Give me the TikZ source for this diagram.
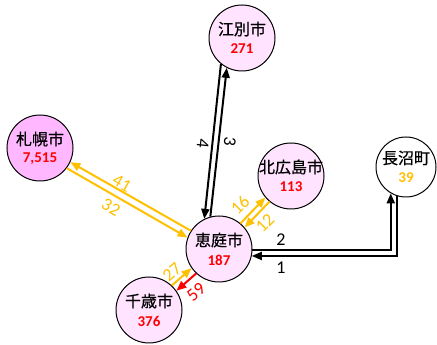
\documentclass[tikz,border=0pt]{standalone}
\usepackage{fontspec}
\setmainfont{Carlito}
\newfontfamily\jp[FakeBold=0.6]{Noto Sans CJK JP}
\usetikzlibrary{arrows.meta,calc}
\definecolor{cfill}{HTML}{FFE3FF}
\definecolor{sfill}{HTML}{FFB8FF}
\definecolor{gold}{HTML}{FFC000}
\begin{document}
\begin{tikzpicture}[x=1pt,y=1pt,
  city/.style={circle,draw,line width=1pt,minimum size=66pt,inner sep=0pt,fill=cfill},
  jpname/.style={font=\jp\fontsize{16}{16}\selectfont,inner sep=0pt},
  num/.style={font=\fontsize{15}{15}\selectfont\bfseries,inner sep=0pt,text=red},
  flow/.style={line width=2pt,-{Triangle[length=10pt,width=8pt]}},
  lab/.style={font=\fontsize{18}{18}\selectfont,inner sep=0pt}
]
\useasboundingbox (0,0) rectangle (437,345);

% cities
\node[city] (ebetsu) at (242,307) {};
\node[city,fill=sfill] (sapporo) at (40,197) {};
\node[city] (kita) at (291,169) {};
\node[city,fill=white,minimum size=60pt] (naganuma) at (406,178) {};
\node[city] (eniwa) at (219,96) {};
\node[city] (chitose) at (149,35) {};

\node[jpname] (ebetsu-t) at ([yshift=9pt]ebetsu.center) {江別市};
\node[num] (ebetsu-n) at ([yshift=-11pt]ebetsu.center) {271};
\node[jpname] (sapporo-t) at ([yshift=9pt]sapporo.center) {札幌市};
\node[num] (sapporo-n) at ([yshift=-11pt]sapporo.center) {7,515};
\node[jpname] (kita-t) at ([yshift=9pt]kita.center) {北広島市};
\node[num] (kita-n) at ([yshift=-11pt]kita.center) {113};
\node[jpname] (naganuma-t) at ([yshift=9pt]naganuma.center) {長沼町};
\node[num,text=gold] (naganuma-n) at ([yshift=-11pt]naganuma.center) {39};
\node[jpname] (eniwa-t) at ([yshift=9pt]eniwa.center) {恵庭市};
\node[num] (eniwa-n) at ([yshift=-11pt]eniwa.center) {187};
\node[jpname] (chitose-t) at ([yshift=9pt]chitose.center) {千歳市};
\node[num] (chitose-n) at ([yshift=-11pt]chitose.center) {376};

% Ebetsu
\draw[flow] (ebetsu.231) -- (eniwa.116.6);
\draw[flow] (eniwa.105.9) -- (ebetsu.243);
% Sapporo
\draw[flow,gold] (eniwa.147.8) -- (sapporo.-25);
\draw[flow,gold] (sapporo.-37.6) -- (eniwa.160.5);
% Kitahiroshima
\draw[flow,gold] (eniwa.50.6) -- (kita.220.2);
\draw[flow,gold] (kita.230.6) -- (eniwa.40.2);
% Chitose
\draw[flow,gold] (chitose.47.1) -- (eniwa.215.1);
\draw[flow,red] (eniwa.227.1) -- (chitose.35.1);
% Naganuma
\draw[flow] (eniwa.-1.7) -| (naganuma.-120);
\draw[flow] (naganuma.-107.5) |- (eniwa.-12.2);

% labels
\node[lab] (l4) at (203,201) [rotate=-96] {4};
\node[lab] (l3) at (230,203) [rotate=-96] {3};
\node[lab,text=gold] (l41) at (122,162) [rotate=-30] {41};
\node[lab,text=gold] (l32) at (111,138) [rotate=-30] {32};
\node[lab,text=gold] (l16) at (240,140) [rotate=45] {16};
\node[lab,text=gold] (l12) at (265,122) [rotate=45] {12};
\node[lab,text=gold] (l27) at (172,73) [rotate=41] {27};
\node[lab,text=red] (l59) at (196,53) [rotate=41] {59};
\node[lab] (l2) at (281,105) {2};
\node[lab] (l1) at (281,77) {1};
\end{tikzpicture}
\end{document}
